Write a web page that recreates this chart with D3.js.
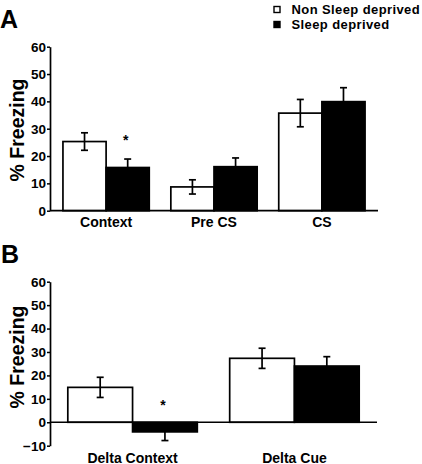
<!DOCTYPE html>
<html>
<head>
<meta charset="utf-8">
<script src="https://cdn.jsdelivr.net/npm/d3@7/dist/d3.min.js"></script>
<style>
  html, body { margin: 0; padding: 0; background: #fff; }
  svg { display: block; }
  text { font-family: "Liberation Sans", Arial, sans-serif; font-weight: bold; fill: #000; }
</style>
</head>
<body>
<svg id="chart" width="422" height="464"></svg>
<script>
// ---- Data ----
const seriesNames = ["Non Sleep deprived", "Sleep deprived"];
const seriesKeys = ["non", "sleep"];

const categoriesA = ["Context", "Pre CS", "CS"];
const nonSleepA = [25.3, 8.7, 35.7];
const nonSleepErrA = [3.2, 2.6, 5.0];
const sleepA = [15.8, 16.1, 39.9];
const sleepErrA = [3.1, 3.2, 5.1];
const ticksA = [0, 10, 20, 30, 40, 50, 60];

const categoriesB = ["Delta Context", "Delta Cue"];
const nonSleepB = [14.9, 27.3];
const nonSleepErrB = [4.3, 4.3];
const sleepB = [-4.1, 24.0];
const sleepErrB = [3.7, 4.0];
const ticksB = [-10, 0, 10, 20, 30, 40, 50, 60];

const starsA = ["Context"];
const starsB = ["Delta Context"];

const svg = d3.select("#chart");
svg.append("rect").attr("width", 422).attr("height", 464).attr("fill", "#fff");

function panel(opts) {
  const g = svg.append("g");
  const y = d3.scaleLinear().domain(opts.yDomain).range(opts.yRange);
  const x0 = d3.scaleBand().domain(opts.categories).range(opts.xRange)
    .paddingInner(0.2).paddingOuter(opts.outer);
  const x1 = d3.scaleBand().domain(seriesKeys).range([0, x0.bandwidth()]);

  const rows = opts.categories.map((c, i) => ({
    cat: c,
    vals: [
      { key: "non", v: opts.non[i], e: opts.nonErr[i] },
      { key: "sleep", v: opts.sleep[i], e: opts.sleepErr[i] }
    ]
  }));

  function errBar(parent, cx, lo, hi) {
    parent.append("line").attr("x1", cx).attr("x2", cx).attr("y1", lo).attr("y2", hi)
      .attr("stroke", "#000").attr("stroke-width", 1.7);
    [lo, hi].forEach(yy => parent.append("line")
      .attr("x1", cx - 3.5).attr("x2", cx + 3.5).attr("y1", yy).attr("y2", yy)
      .attr("stroke", "#000").attr("stroke-width", 1.7));
  }

  // error bars for black bars drawn first (inner part hidden by bar)
  rows.forEach(r => {
    r.vals.forEach(d => {
      if (d.key !== "sleep") return;
      const cx = x0(r.cat) + x1(d.key) + x1.bandwidth() / 2;
      errBar(g, cx, y(d.v - d.e), y(d.v + d.e));
    });
  });

  // bars
  rows.forEach(r => {
    r.vals.forEach(d => {
      const top = y(Math.max(0, d.v)), bot = y(Math.min(0, d.v));
      g.append("rect")
        .attr("x", x0(r.cat) + x1(d.key))
        .attr("y", top)
        .attr("width", x1.bandwidth())
        .attr("height", bot - top)
        .attr("fill", d.key === "non" ? "#fff" : "#000")
        .attr("stroke", "#000").attr("stroke-width", 1.7);
    });
  });

  // error bars for white bars (fully visible)
  rows.forEach(r => {
    r.vals.forEach(d => {
      if (d.key !== "non") return;
      const cx = x0(r.cat) + x1(d.key) + x1.bandwidth() / 2;
      errBar(g, cx, y(d.v - d.e), y(d.v + d.e));
    });
  });

  // zero line / x axis
  g.append("line")
    .attr("x1", opts.xRange[0]).attr("x2", opts.xRange[1])
    .attr("y1", y(0)).attr("y2", y(0))
    .attr("stroke", "#000").attr("stroke-width", 1.7);

  // y axis
  const ax = g.append("g").attr("transform", `translate(${opts.xRange[0]},0)`)
    .call(d3.axisLeft(y).tickValues(opts.ticks).tickSize(3).tickSizeOuter(0).tickPadding(1));
  ax.select(".domain").attr("stroke", "#000").attr("stroke-width", 1.7);
  ax.selectAll(".tick line").attr("stroke", "#000").attr("stroke-width", 1.5);
  ax.selectAll(".tick text")
    .style("font-family", '"Liberation Sans", Arial, sans-serif')
    .style("font-weight", "bold").style("font-size", "13.5px").attr("fill", "#000");

  // category labels
  opts.categories.forEach(c => {
    g.append("text")
      .attr("x", x0(c) + x0.bandwidth() / 2)
      .attr("y", opts.labelY)
      .attr("text-anchor", "middle")
      .style("font-size", "14px")
      .text(c);
  });

  // stars
  opts.stars.forEach(c => {
    const i = opts.categories.indexOf(c);
    const cx = x0(c) + x1("sleep") + x1.bandwidth() / 2 - 2;
    const topV = Math.max(0, opts.sleep[i] + opts.sleepErr[i]);
    g.append("text")
      .attr("x", cx).attr("y", y(topV) - opts.starOff)
      .attr("text-anchor", "middle")
      .style("font-size", "14px")
      .text("*");
  });

  // y title
  g.append("text")
    .attr("transform", `translate(24,${opts.titleY}) rotate(-90)`)
    .attr("text-anchor", "middle")
    .style("font-size", "19.5px")
    .text("% Freezing");

  // panel letter
  g.append("text")
    .attr("x", opts.letterX).attr("y", opts.letterY)
    .style("font-size", "25px")
    .text(opts.letter);
}

panel({
  categories: categoriesA, non: nonSleepA, nonErr: nonSleepErrA,
  sleep: sleepA, sleepErr: sleepErrA, ticks: ticksA,
  yDomain: [0, 60], yRange: [210.7, 46.7], xRange: [50, 378], outer: 0.12,
  labelY: 227, stars: starsA, starOff: 14, titleY: 130, letter: "A", letterX: 0, letterY: 28
});

panel({
  categories: categoriesB, non: nonSleepB, nonErr: nonSleepErrB,
  sleep: sleepB, sleepErr: sleepErrB, ticks: ticksB,
  yDomain: [-10, 60], yRange: [445.7, 281.7], xRange: [50, 377], outer: 0.11,
  labelY: 462.5, stars: starsB, starOff: 12, titleY: 357, letter: "B", letterX: 1, letterY: 263
});

// legend
const lg = svg.append("g");
seriesNames.forEach((name, i) => {
  lg.append("rect")
    .attr("x", 274).attr("y", 6.5 + i * 15)
    .attr("width", 6).attr("height", 6)
    .attr("fill", i === 0 ? "#fff" : "#000")
    .attr("stroke", "#000").attr("stroke-width", 1.4);
  lg.append("text")
    .attr("x", 291.5).attr("y", 14 + i * 15)
    .style("font-size", "13px")
    .style("letter-spacing", "0.4px")
    .text(name);
});
</script>
</body>
</html>
